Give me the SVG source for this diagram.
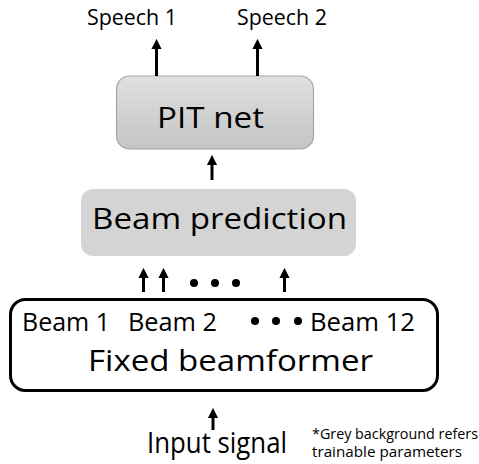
<svg xmlns="http://www.w3.org/2000/svg" width="479" height="464" viewBox="0 0 479 464">
<defs>
<linearGradient id="g1" x1="0" y1="0" x2="0" y2="1">
<stop offset="0" stop-color="#e0e0e0"/>
<stop offset="1" stop-color="#c4c4c4"/>
</linearGradient>
<marker id="ah" viewBox="0 0 10 10" refX="1" refY="5" markerWidth="3.4" markerHeight="4" orient="auto" markerUnits="strokeWidth">
<path d="M0,0 L10,5 L0,10 Z" fill="#000"/>
</marker>
</defs>
<style>
text{font-family:"Open Sans","Liberation Sans",sans-serif;fill:#000}
.ar{stroke:#000;stroke-width:3;fill:none}
.dot{fill:#000}
</style>
<rect width="479" height="464" fill="#fff"/>
<g id="pitnet">
<rect x="116.5" y="76" width="197" height="73" rx="13" fill="url(#g1)" stroke="#a6a6a6" stroke-width="1.2"/>
<text x="157" y="128" font-size="30" textLength="107" lengthAdjust="spacingAndGlyphs">PIT net</text>
</g>
<g id="beampred">
<rect x="81" y="189" width="275" height="67" rx="12" fill="#d4d4d4"/>
<text x="92" y="229" font-size="30" textLength="255" lengthAdjust="spacingAndGlyphs">Beam prediction</text>
</g>
<g id="fixedbf">
<rect x="10.5" y="299.5" width="427" height="91" rx="15" fill="#fff" stroke="#000" stroke-width="3"/>
<text x="22" y="331" font-size="25" textLength="88" lengthAdjust="spacingAndGlyphs">Beam 1</text>
<text x="128" y="331" font-size="25" textLength="89" lengthAdjust="spacingAndGlyphs">Beam 2</text>
<circle class="dot" cx="255" cy="321" r="4"/>
<circle class="dot" cx="276" cy="321" r="4"/>
<circle class="dot" cx="298" cy="321" r="4"/>
<text x="310" y="331" font-size="25" textLength="105" lengthAdjust="spacingAndGlyphs">Beam 12</text>
<text x="88" y="371" font-size="30" textLength="285" lengthAdjust="spacingAndGlyphs">Fixed beamformer</text>
</g>
<g id="labels">
<text x="87" y="25" font-size="22" textLength="90" lengthAdjust="spacingAndGlyphs">Speech 1</text>
<text x="237" y="25" font-size="22" textLength="90" lengthAdjust="spacingAndGlyphs">Speech 2</text>
<text x="147" y="453" font-size="29" textLength="140" lengthAdjust="spacingAndGlyphs">Input signal</text>
<text x="312" y="439" font-size="14.5" textLength="166" lengthAdjust="spacingAndGlyphs">*Grey background refers</text>
<text x="312" y="457" font-size="14.5" textLength="150" lengthAdjust="spacingAndGlyphs">trainable parameters</text>
</g>
<g id="connectors">
<line class="ar" x1="156.5" y1="76" x2="156.5" y2="48" marker-end="url(#ah)"/>
<line class="ar" x1="257.5" y1="76" x2="257.5" y2="48" marker-end="url(#ah)"/>
<line class="ar" x1="212" y1="180" x2="212" y2="164" marker-end="url(#ah)"/>
<line class="ar" x1="143.5" y1="292" x2="143.5" y2="277" marker-end="url(#ah)"/>
<line class="ar" x1="163.5" y1="292" x2="163.5" y2="277" marker-end="url(#ah)"/>
<line class="ar" x1="284.5" y1="292" x2="284.5" y2="277" marker-end="url(#ah)"/>
<circle class="dot" cx="194" cy="283" r="4"/>
<circle class="dot" cx="215" cy="283" r="4"/>
<circle class="dot" cx="236" cy="283" r="4"/>
<line class="ar" x1="213" y1="430" x2="213" y2="417" marker-end="url(#ah)"/>
</g>
</svg>
